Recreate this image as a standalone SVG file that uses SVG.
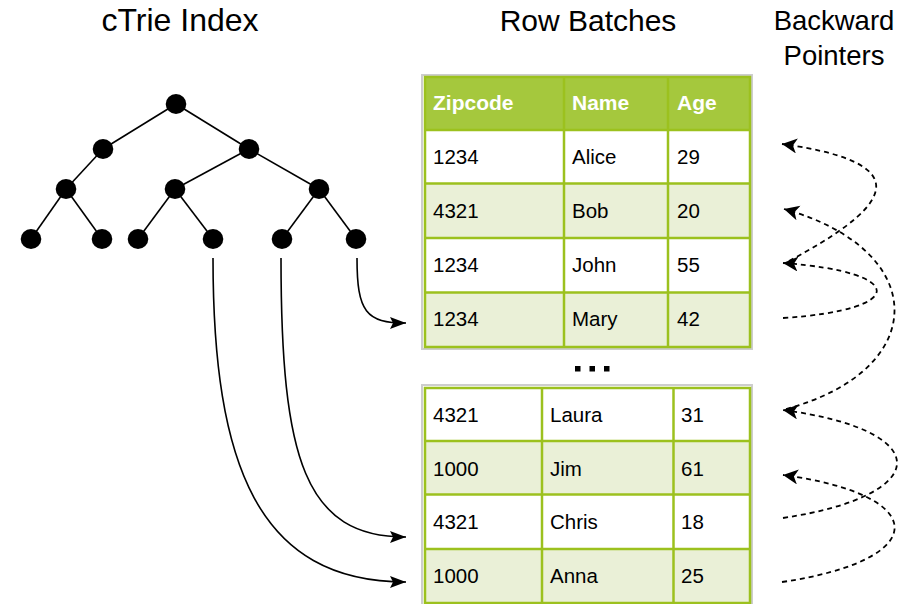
<svg xmlns="http://www.w3.org/2000/svg" width="901" height="604" viewBox="0 0 901 604">
  <defs>
    <style>
      .title { font-family: "Liberation Sans", Arial, sans-serif; font-size: 30px; fill: #000; text-anchor: middle; }
      .hdr { font-family: "Liberation Sans", Arial, sans-serif; font-size: 21px; font-weight: bold; fill: #fff; }
      .cell { font-family: "Liberation Sans", Arial, sans-serif; font-size: 20.5px; fill: #000; }
      .edge { stroke: #000; stroke-width: 1.6; fill: none; }
      .node { fill: #000; }
      .frame { fill: none; stroke: #cdcdcd; stroke-width: 2; }
      .grid { fill: none; stroke: #9cc11e; stroke-width: 2.5; }
      .hrow { fill: #a5c83d; }
      .wrow { fill: #ffffff; }
      .grow { fill: #eaf0d7; }
      .link { stroke: #000; stroke-width: 1.6; fill: none; marker-end: url(#solidHead); }
      .back { stroke: #000; stroke-width: 1.8; fill: none; stroke-dasharray: 5 4; marker-end: url(#dashHead); }
    </style>
    <marker id="solidHead" markerUnits="userSpaceOnUse" markerWidth="18" markerHeight="13" refX="16" refY="6" orient="auto">
      <path d="M0,0 L16,6 L0,12 L3,6 z" fill="#000"/>
    </marker>
    <marker id="dashHead" markerUnits="userSpaceOnUse" markerWidth="17" markerHeight="16" refX="15" refY="7.5" orient="auto">
      <path d="M0,0 L15,7.5 L0,15 L4,7.5 z" fill="#000"/>
    </marker>
  </defs>

  <!-- column headings -->
  <text class="title" x="180" y="31" style="font-size:32px">cTrie Index</text>
  <text class="title" x="588" y="31">Row Batches</text>
  <text class="title" x="834" y="30" style="font-size:27.5px">Backward</text>
  <text class="title" x="834" y="65" style="font-size:27.5px">Pointers</text>

  <!-- index tree -->
  <g id="tree">
    <g id="tree-edges">
      <line class="edge" x1="176" y1="104" x2="103" y2="149"/>
      <line class="edge" x1="176" y1="104" x2="249" y2="149"/>
      <line class="edge" x1="103" y1="149" x2="66" y2="189"/>
      <line class="edge" x1="249" y1="149" x2="175" y2="189"/>
      <line class="edge" x1="249" y1="149" x2="319" y2="189"/>
      <line class="edge" x1="66" y1="189" x2="31" y2="239"/>
      <line class="edge" x1="66" y1="189" x2="102" y2="239"/>
      <line class="edge" x1="175" y1="189" x2="138" y2="239"/>
      <line class="edge" x1="175" y1="189" x2="213" y2="239"/>
      <line class="edge" x1="319" y1="189" x2="282" y2="239"/>
      <line class="edge" x1="319" y1="189" x2="356" y2="239"/>
    </g>
    <g id="n-root"><ellipse class="node" cx="176" cy="104" rx="10.3" ry="10"/></g>
    <g id="n-l"><ellipse class="node" cx="103" cy="149" rx="10.3" ry="10"/></g>
    <g id="n-r"><ellipse class="node" cx="249" cy="149" rx="10.3" ry="10"/></g>
    <g id="n-ll"><ellipse class="node" cx="66" cy="189" rx="10.3" ry="10"/></g>
    <g id="n-rl"><ellipse class="node" cx="175" cy="189" rx="10.3" ry="10"/></g>
    <g id="n-rr"><ellipse class="node" cx="319" cy="189" rx="10.3" ry="10"/></g>
    <g id="leaf-1"><ellipse class="node" cx="31" cy="239" rx="10.3" ry="10"/></g>
    <g id="leaf-2"><ellipse class="node" cx="102" cy="239" rx="10.3" ry="10"/></g>
    <g id="leaf-3"><ellipse class="node" cx="138" cy="239" rx="10.3" ry="10"/></g>
    <g id="leaf-4"><ellipse class="node" cx="213" cy="239" rx="10.3" ry="10"/></g>
    <g id="leaf-5"><ellipse class="node" cx="282" cy="239" rx="10.3" ry="10"/></g>
    <g id="leaf-6"><ellipse class="node" cx="356" cy="239" rx="10.3" ry="10"/></g>
  </g>

  <!-- first row batch -->
  <g id="batch-1">
    <rect class="frame" x="422" y="75" width="330" height="274"/>
    <rect class="hrow" x="425" y="77" width="325" height="53"/>
    <rect class="wrow" x="425" y="130" width="325" height="53.5"/>
    <rect class="grow" x="425" y="183.5" width="325" height="54.5"/>
    <rect class="wrow" x="425" y="238" width="325" height="54.5"/>
    <rect class="grow" x="425" y="292.5" width="325" height="54.5"/>
    <g class="grid-lines">
      <rect class="grid" x="425" y="77" width="325" height="270"/>
      <line class="grid" x1="425" y1="130" x2="750" y2="130"/>
      <line class="grid" x1="425" y1="183.5" x2="750" y2="183.5"/>
      <line class="grid" x1="425" y1="238" x2="750" y2="238"/>
      <line class="grid" x1="425" y1="292.5" x2="750" y2="292.5"/>
      <line class="grid" x1="564" y1="77" x2="564" y2="347"/>
      <line class="grid" x1="668" y1="77" x2="668" y2="347"/>
    </g>
    <text class="hdr" x="433" y="110">Zipcode</text>
    <text class="hdr" x="572" y="110">Name</text>
    <text class="hdr" x="677" y="110">Age</text>
    <text class="cell" x="433" y="164">1234</text>
    <text class="cell" x="572" y="164">Alice</text>
    <text class="cell" x="677" y="164">29</text>
    <text class="cell" x="433" y="217.5">4321</text>
    <text class="cell" x="572" y="217.5">Bob</text>
    <text class="cell" x="677" y="217.5">20</text>
    <text class="cell" x="433" y="272">1234</text>
    <text class="cell" x="572" y="272">John</text>
    <text class="cell" x="677" y="272">55</text>
    <text class="cell" x="433" y="326">1234</text>
    <text class="cell" x="572" y="326">Mary</text>
    <text class="cell" x="677" y="326">42</text>
  </g>

  <!-- ellipsis between batches -->
  <g id="ellipsis">
    <rect x="575" y="366" width="5.5" height="5.5" fill="#000"/>
    <rect x="589.5" y="366" width="5.5" height="5.5" fill="#000"/>
    <rect x="604" y="366" width="5.5" height="5.5" fill="#000"/>
  </g>

  <!-- second row batch -->
  <g id="batch-2">
    <rect class="frame" x="422" y="385" width="330" height="224"/>
    <rect class="wrow" x="425" y="388" width="325" height="53"/>
    <rect class="grow" x="425" y="441" width="325" height="53.5"/>
    <rect class="wrow" x="425" y="494.5" width="325" height="54.5"/>
    <rect class="grow" x="425" y="549" width="325" height="54"/>
    <g class="grid-lines">
      <rect class="grid" x="425" y="388" width="325" height="215"/>
      <line class="grid" x1="425" y1="441" x2="750" y2="441"/>
      <line class="grid" x1="425" y1="494.5" x2="750" y2="494.5"/>
      <line class="grid" x1="425" y1="549" x2="750" y2="549"/>
      <line class="grid" x1="542" y1="388" x2="542" y2="603"/>
      <line class="grid" x1="673.5" y1="388" x2="673.5" y2="603"/>
    </g>
    <text class="cell" x="433" y="422">4321</text>
    <text class="cell" x="550" y="422">Laura</text>
    <text class="cell" x="681" y="422">31</text>
    <text class="cell" x="433" y="475.5">1000</text>
    <text class="cell" x="550" y="475.5">Jim</text>
    <text class="cell" x="681" y="475.5">61</text>
    <text class="cell" x="433" y="529">4321</text>
    <text class="cell" x="550" y="529">Chris</text>
    <text class="cell" x="681" y="529">18</text>
    <text class="cell" x="433" y="582.5">1000</text>
    <text class="cell" x="550" y="582.5">Anna</text>
    <text class="cell" x="681" y="582.5">25</text>
  </g>

  <!-- connectors -->
  <g id="connectors">
    <!-- leaf to row -->
    <path class="link" d="M357,258 C357,312 366,323 406,323"/>
    <path class="link" d="M281,258 C281,460 305,537 406,537"/>
    <path class="link" d="M213,258 C213,465 258,582 406,582"/>
    <!-- backward pointers between rows sharing a key -->
    <path class="back" d="M789,261 C875,215 935,165 782,144"/>
    <path class="back" d="M783,318 C908,310 908,272 783,263"/>
    <path class="back" d="M786,409 C931,370 931,250 784,209"/>
    <path class="back" d="M783,518 C935,495 935,430 783,410"/>
    <path class="back" d="M782,582 C932,560 932,495 783,475"/>
  </g>
</svg>
